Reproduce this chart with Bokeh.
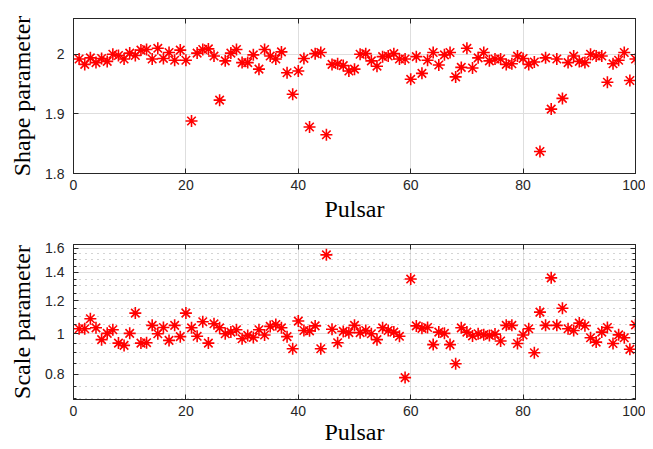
from bokeh.plotting import figure
from bokeh.layouts import column
from bokeh.models import Range1d, FixedTicker, LinearAxis, LogAxis, CustomJSTickFormatter
from bokeh.embed import file_html
from bokeh.resources import INLINE

pulsar = list(range(1, 101))

shape = [
    1.992, 1.983, 1.994, 1.986, 1.993, 1.988, 2.000, 1.998, 1.992, 2.002,
    1.998, 2.007, 2.008, 1.992, 2.010, 1.993, 2.003, 1.990, 2.007, 1.990,
    1.888, 2.002, 2.008, 2.009, 1.997, 1.923, 1.989, 2.002, 2.008, 1.986,
    1.986, 1.999, 1.975, 2.008, 1.997, 1.992, 2.004, 1.969, 1.933, 1.972,
    1.993, 1.878, 2.001, 2.003, 1.865, 1.983, 1.984, 1.981, 1.972, 1.975,
    2.000, 2.001, 1.989, 1.980, 1.996, 1.997, 2.001, 1.992, 1.992, 1.958,
    1.996, 1.968, 1.990, 2.003, 1.982, 1.999, 2.003, 1.962, 1.978, 2.010,
    1.977, 1.994, 2.003, 1.989, 1.992, 1.992, 1.983, 1.984, 1.997, 1.993,
    1.983, 1.987, 1.837, 1.994, 1.908, 1.992, 1.926, 1.986, 1.997, 1.988,
    1.986, 2.000, 1.997, 1.997, 1.953, 1.984, 1.990, 2.003, 1.956, 1.992,
]

scale = [
    1.028, 1.028, 1.086, 1.033, 0.968, 1.002, 1.022, 0.950, 0.938, 1.002,
    1.120, 0.950, 0.952, 1.047, 1.000, 1.035, 0.964, 1.047, 0.984, 1.120,
    1.033, 0.986, 1.068, 0.950, 1.056, 1.033, 1.000, 1.009, 1.022, 0.973,
    0.991, 0.980, 1.022, 0.993, 1.041, 1.052, 1.033, 0.984, 0.921, 1.072,
    1.018, 1.016, 1.044, 0.921, 1.542, 1.025, 0.952, 1.013, 1.006, 1.047,
    1.006, 1.018, 1.000, 0.968, 1.033, 1.018, 1.009, 0.986, 0.786, 1.350,
    1.044, 1.030, 1.035, 0.942, 1.009, 1.002, 0.942, 0.848, 1.033, 1.009,
    0.988, 1.000, 0.995, 0.991, 0.998, 0.961, 1.047, 1.047, 0.948, 0.993,
    1.028, 0.901, 1.126, 1.047, 1.359, 1.047, 1.150, 1.028, 1.018, 1.060,
    1.045, 0.978, 0.955, 1.009, 1.035, 0.948, 0.994, 0.978, 0.918, 1.050,
]

x_ticks = [0, 20, 40, 60, 80, 100]
shape_ticks = [1.8, 1.9, 2.0]
scale_ticks = [0.8, 1.0, 1.2, 1.4, 1.6]
scale_minor = [0.7, 0.75, 0.85, 0.9, 0.95, 1.05, 1.1, 1.15, 1.25, 1.3, 1.35, 1.45, 1.5, 1.55]

AX = "#262626"
GRID = "#dedede"
fmt_code = "return String(Math.round(tick*100)/100)"


def style_axis(ax, show_labels=True):
    ax.axis_line_color = AX
    ax.axis_line_width = 1
    ax.major_tick_line_color = AX
    ax.major_tick_in = 5
    ax.major_tick_out = 0
    ax.minor_tick_line_color = None
    ax.major_label_text_font = "Liberation Sans"
    ax.major_label_text_color = AX
    ax.major_label_text_font_size = "14px"
    if not show_labels:
        ax.formatter = CustomJSTickFormatter(code="return ''")
        ax.major_label_standoff = 0
    ax.axis_label_text_font = "Liberation Serif"
    ax.axis_label_text_font_style = "normal"
    ax.axis_label_text_font_size = "24px"
    ax.axis_label_text_color = "black"


def make_fig(height, top, bottom, log=False):
    p = figure(width=645, height=height, output_backend="svg", toolbar_location=None,
               y_axis_type="log" if log else "linear",
               min_border_left=73, min_border_right=10,
               min_border_top=top, min_border_bottom=bottom)
    p.x_range = Range1d(0, 100)
    p.outline_line_color = AX
    p.outline_line_width = 1
    p.background_fill_color = "white"
    p.xgrid.grid_line_color = GRID
    p.ygrid.grid_line_color = GRID
    return p


# ---- top panel ----
p1 = make_fig(231, 18, 58)
p1.y_range = Range1d(1.8, 2.06)
xt = FixedTicker(ticks=x_ticks)
yt1 = FixedTicker(ticks=shape_ticks)
p1.xaxis.ticker = xt
p1.yaxis.ticker = yt1
p1.yaxis.formatter = CustomJSTickFormatter(code=fmt_code)
for ax in p1.xaxis + p1.yaxis:
    style_axis(ax)
p1.xaxis.axis_label = "Pulsar"
p1.yaxis.axis_label = "Shape parameter"
p1.xaxis.major_label_standoff = 6
p1.xaxis.axis_label_standoff = 3
p1.yaxis.major_label_standoff = 9
p1.yaxis.axis_label_standoff = 7
p1.scatter(pulsar, shape, marker="asterisk", size=12, line_color="#ff0000", line_width=1.6)
top1 = LinearAxis(ticker=xt)
style_axis(top1, False)
right1 = LinearAxis(ticker=yt1)
style_axis(right1, False)
p1.add_layout(top1, "above")
p1.add_layout(right1, "right")

# ---- bottom panel ----
p2 = make_fig(217, 13, 49, log=True)
p2.y_range = Range1d(0.697, 1.632)
yt2 = FixedTicker(ticks=scale_ticks, minor_ticks=scale_minor)
p2.xaxis.ticker = xt
p2.yaxis.ticker = yt2
p2.yaxis.formatter = CustomJSTickFormatter(code=fmt_code)
for ax in p2.xaxis + p2.yaxis:
    style_axis(ax)
p2.yaxis.minor_tick_line_color = AX
p2.yaxis.minor_tick_in = 3
p2.yaxis.minor_tick_out = 0
p2.xaxis.axis_label = "Pulsar"
p2.yaxis.axis_label = "Scale parameter"
p2.xaxis.major_label_standoff = 6
p2.xaxis.axis_label_standoff = 0
p2.yaxis.major_label_standoff = 9
p2.yaxis.axis_label_standoff = 7
p2.ygrid.minor_grid_line_color = "#a8a8a8"
p2.ygrid.minor_grid_line_dash = "1 5"
p2.scatter(pulsar, scale, marker="asterisk", size=12, line_color="#ff0000", line_width=1.6)
top2 = LinearAxis(ticker=xt)
style_axis(top2, False)
right2 = LogAxis(ticker=yt2)
style_axis(right2, False)
right2.minor_tick_line_color = AX
right2.minor_tick_in = 3
right2.minor_tick_out = 0
p2.add_layout(top2, "above")
p2.add_layout(right2, "right")

layout = column(p1, p2, spacing=0)
open("out.html", "w").write(file_html(layout, INLINE))
